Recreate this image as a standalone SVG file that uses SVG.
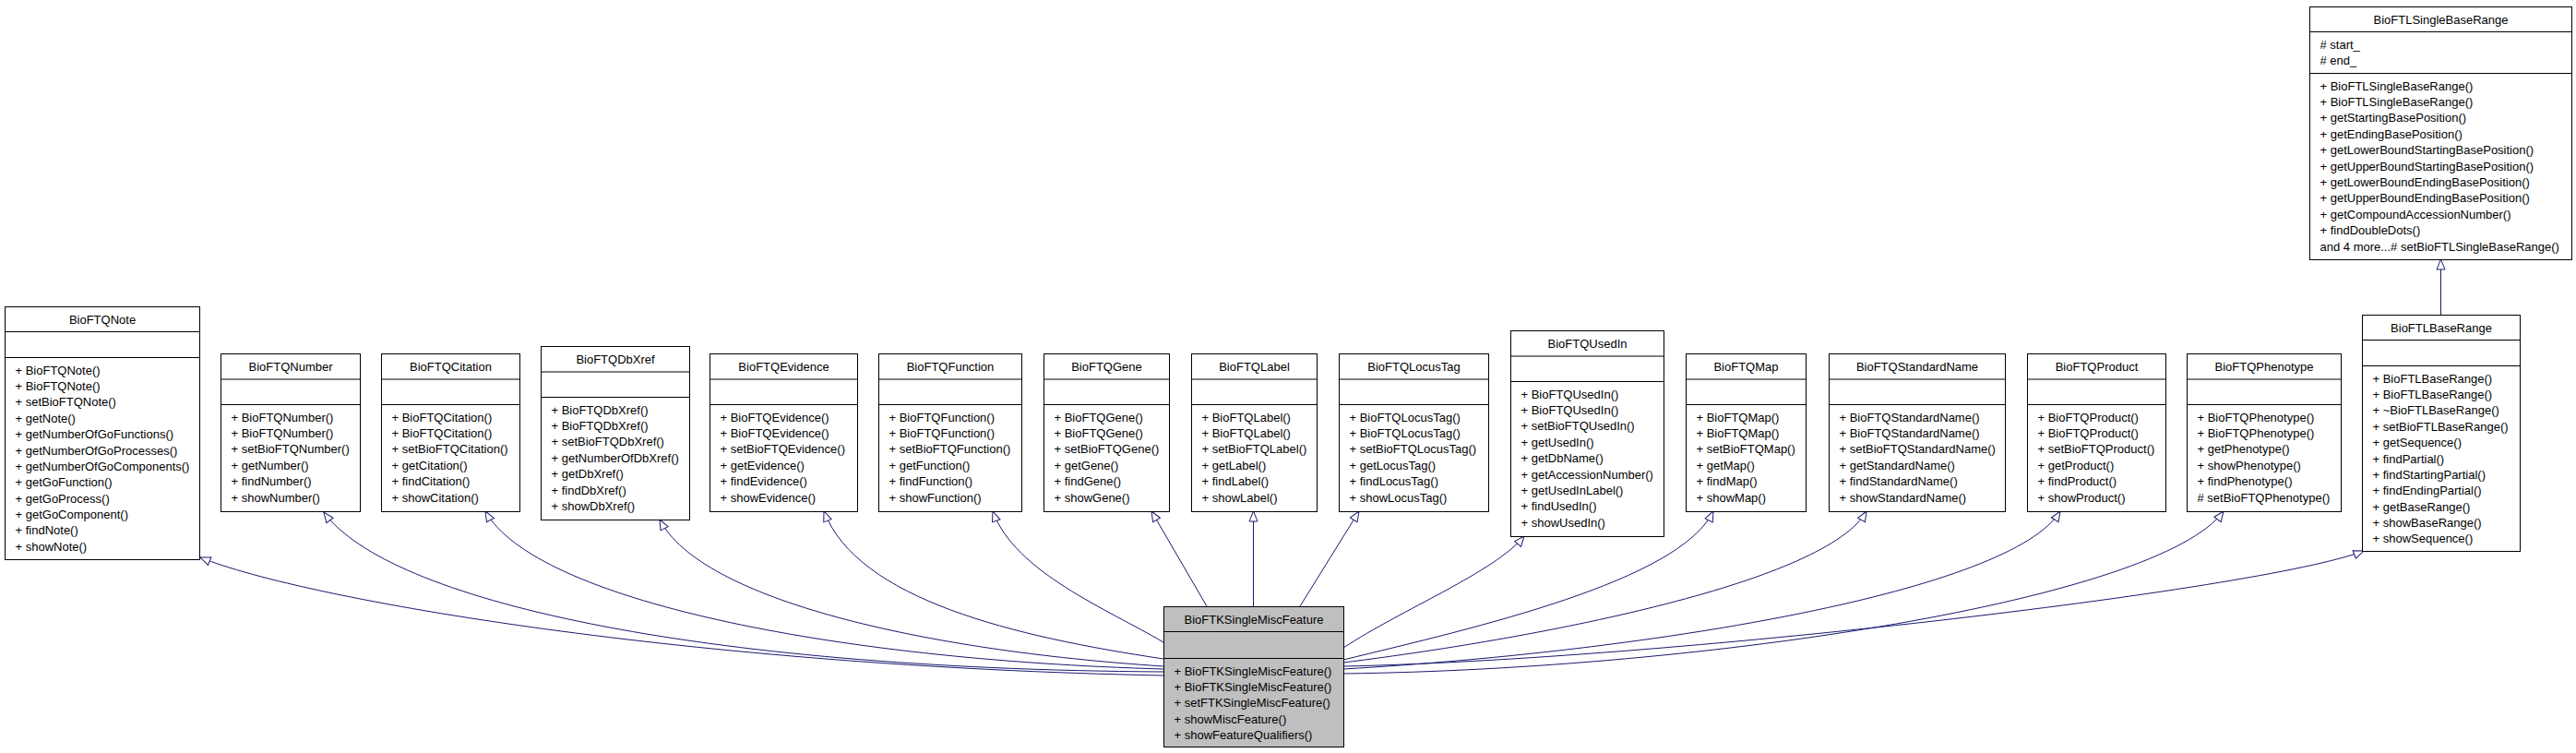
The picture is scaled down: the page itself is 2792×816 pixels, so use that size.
<svg xmlns="http://www.w3.org/2000/svg" width="2792" height="816" viewBox="0 0 2792 816">
<style>
.n rect{fill:#fff;stroke:#000;stroke-width:1}
.n line{stroke:#000;stroke-width:1}
.main rect{fill:#bfbfbf}
text{font-family:"Liberation Sans",Arial,Helvetica,sans-serif;font-size:13px;fill:#000}
.h{text-anchor:middle}
.e path{fill:none;stroke:#191970;stroke-width:1;marker-end:url(#arr)}
</style>
<defs>
<marker id="arr" markerUnits="userSpaceOnUse" viewBox="-12 -6 13 12" markerWidth="13" markerHeight="12" refX="0" refY="0" orient="auto">
<path d="M-11,-4.5 L0,0 L-11,4.5 Z" fill="#fff" stroke="#191970" stroke-width="1"/>
</marker>
</defs>
<rect width="2792" height="816" fill="#fff"/>
<g class="e">
<path d="M1261,732 C750,722 330,650 217,604"/>
<path d="M1261,728 C750,725 420,650 351,555"/>
<path d="M1261,725 C900,715 580,650 526,554"/>
<path d="M1261,722 C1000,705 760,650 715,563"/>
<path d="M1261,714 C1100,690 930,650 893,554"/>
<path d="M1261,696 C1200,660 1100,620 1076,554"/>
<path d="M1308,657 L1248,554"/>
<path d="M1358.5,657 L1358.5,554"/>
<path d="M1409,657 L1473,554"/>
<path d="M1456,702 C1520,660 1620,620 1652,581"/>
<path d="M1456,715 C1600,680 1820,630 1857,554"/>
<path d="M1456,718 C1680,690 1980,630 2023,554"/>
<path d="M1456,725 C1800,705 2180,640 2233,554"/>
<path d="M1456,730 C1850,725 2340,650 2410,554"/>
<path d="M1456,722 C1800,715 2450,640 2562,597"/>
<path d="M2645.5,341 L2645.5,281"/>
</g>
<g id="BioFTQNote" class="n" transform="translate(5.5,332.5)">
<rect width="211" height="274"/><line x1="0" y1="27" x2="211" y2="27"/><line x1="0" y1="55" x2="211" y2="55"/>
<text class="h" x="105.5" y="18">BioFTQNote</text>
<text x="11" y="73"><tspan x="11">+ BioFTQNote()</tspan><tspan x="11" dy="17.4">+ BioFTQNote()</tspan><tspan x="11" dy="17.4">+ setBioFTQNote()</tspan><tspan x="11" dy="17.4">+ getNote()</tspan><tspan x="11" dy="17.4">+ getNumberOfGoFunctions()</tspan><tspan x="11" dy="17.4">+ getNumberOfGoProcesses()</tspan><tspan x="11" dy="17.4">+ getNumberOfGoComponents()</tspan><tspan x="11" dy="17.4">+ getGoFunction()</tspan><tspan x="11" dy="17.4">+ getGoProcess()</tspan><tspan x="11" dy="17.4">+ getGoComponent()</tspan><tspan x="11" dy="17.4">+ findNote()</tspan><tspan x="11" dy="17.4">+ showNote()</tspan></text>
</g>
<g id="BioFTQNumber" class="n" transform="translate(239.5,383.5)">
<rect width="151" height="171"/><line x1="0" y1="27.5" x2="151" y2="27.5"/><line x1="0" y1="55" x2="151" y2="55"/>
<text class="h" x="75.5" y="18">BioFTQNumber</text>
<text x="11" y="73"><tspan x="11">+ BioFTQNumber()</tspan><tspan x="11" dy="17.4">+ BioFTQNumber()</tspan><tspan x="11" dy="17.4">+ setBioFTQNumber()</tspan><tspan x="11" dy="17.4">+ getNumber()</tspan><tspan x="11" dy="17.4">+ findNumber()</tspan><tspan x="11" dy="17.4">+ showNumber()</tspan></text>
</g>
<g id="BioFTQCitation" class="n" transform="translate(413.5,383.5)">
<rect width="150" height="171"/><line x1="0" y1="27.5" x2="150" y2="27.5"/><line x1="0" y1="55" x2="150" y2="55"/>
<text class="h" x="75" y="18">BioFTQCitation</text>
<text x="11" y="73"><tspan x="11">+ BioFTQCitation()</tspan><tspan x="11" dy="17.4">+ BioFTQCitation()</tspan><tspan x="11" dy="17.4">+ setBioFTQCitation()</tspan><tspan x="11" dy="17.4">+ getCitation()</tspan><tspan x="11" dy="17.4">+ findCitation()</tspan><tspan x="11" dy="17.4">+ showCitation()</tspan></text>
</g>
<g id="BioFTQDbXref" class="n" transform="translate(586.5,375.5)">
<rect width="161" height="188"/><line x1="0" y1="27.5" x2="161" y2="27.5"/><line x1="0" y1="55" x2="161" y2="55"/>
<text class="h" x="80.5" y="18">BioFTQDbXref</text>
<text x="11" y="73"><tspan x="11">+ BioFTQDbXref()</tspan><tspan x="11" dy="17.4">+ BioFTQDbXref()</tspan><tspan x="11" dy="17.4">+ setBioFTQDbXref()</tspan><tspan x="11" dy="17.4">+ getNumberOfDbXref()</tspan><tspan x="11" dy="17.4">+ getDbXref()</tspan><tspan x="11" dy="17.4">+ findDbXref()</tspan><tspan x="11" dy="17.4">+ showDbXref()</tspan></text>
</g>
<g id="BioFTQEvidence" class="n" transform="translate(769.5,383.5)">
<rect width="160" height="171"/><line x1="0" y1="27.5" x2="160" y2="27.5"/><line x1="0" y1="55" x2="160" y2="55"/>
<text class="h" x="80" y="18">BioFTQEvidence</text>
<text x="11" y="73"><tspan x="11">+ BioFTQEvidence()</tspan><tspan x="11" dy="17.4">+ BioFTQEvidence()</tspan><tspan x="11" dy="17.4">+ setBioFTQEvidence()</tspan><tspan x="11" dy="17.4">+ getEvidence()</tspan><tspan x="11" dy="17.4">+ findEvidence()</tspan><tspan x="11" dy="17.4">+ showEvidence()</tspan></text>
</g>
<g id="BioFTQFunction" class="n" transform="translate(952.5,383.5)">
<rect width="155" height="171"/><line x1="0" y1="27.5" x2="155" y2="27.5"/><line x1="0" y1="55" x2="155" y2="55"/>
<text class="h" x="77.5" y="18">BioFTQFunction</text>
<text x="11" y="73"><tspan x="11">+ BioFTQFunction()</tspan><tspan x="11" dy="17.4">+ BioFTQFunction()</tspan><tspan x="11" dy="17.4">+ setBioFTQFunction()</tspan><tspan x="11" dy="17.4">+ getFunction()</tspan><tspan x="11" dy="17.4">+ findFunction()</tspan><tspan x="11" dy="17.4">+ showFunction()</tspan></text>
</g>
<g id="BioFTQGene" class="n" transform="translate(1131.5,383.5)">
<rect width="136" height="171"/><line x1="0" y1="27.5" x2="136" y2="27.5"/><line x1="0" y1="55" x2="136" y2="55"/>
<text class="h" x="68" y="18">BioFTQGene</text>
<text x="11" y="73"><tspan x="11">+ BioFTQGene()</tspan><tspan x="11" dy="17.4">+ BioFTQGene()</tspan><tspan x="11" dy="17.4">+ setBioFTQGene()</tspan><tspan x="11" dy="17.4">+ getGene()</tspan><tspan x="11" dy="17.4">+ findGene()</tspan><tspan x="11" dy="17.4">+ showGene()</tspan></text>
</g>
<g id="BioFTQLabel" class="n" transform="translate(1291.5,383.5)">
<rect width="136" height="171"/><line x1="0" y1="27.5" x2="136" y2="27.5"/><line x1="0" y1="55" x2="136" y2="55"/>
<text class="h" x="68" y="18">BioFTQLabel</text>
<text x="11" y="73"><tspan x="11">+ BioFTQLabel()</tspan><tspan x="11" dy="17.4">+ BioFTQLabel()</tspan><tspan x="11" dy="17.4">+ setBioFTQLabel()</tspan><tspan x="11" dy="17.4">+ getLabel()</tspan><tspan x="11" dy="17.4">+ findLabel()</tspan><tspan x="11" dy="17.4">+ showLabel()</tspan></text>
</g>
<g id="BioFTQLocusTag" class="n" transform="translate(1451.5,383.5)">
<rect width="162" height="171"/><line x1="0" y1="27.5" x2="162" y2="27.5"/><line x1="0" y1="55" x2="162" y2="55"/>
<text class="h" x="81" y="18">BioFTQLocusTag</text>
<text x="11" y="73"><tspan x="11">+ BioFTQLocusTag()</tspan><tspan x="11" dy="17.4">+ BioFTQLocusTag()</tspan><tspan x="11" dy="17.4">+ setBioFTQLocusTag()</tspan><tspan x="11" dy="17.4">+ getLocusTag()</tspan><tspan x="11" dy="17.4">+ findLocusTag()</tspan><tspan x="11" dy="17.4">+ showLocusTag()</tspan></text>
</g>
<g id="BioFTQUsedIn" class="n" transform="translate(1637.5,358.5)">
<rect width="166" height="223"/><line x1="0" y1="27.5" x2="166" y2="27.5"/><line x1="0" y1="55" x2="166" y2="55"/>
<text class="h" x="83" y="18">BioFTQUsedIn</text>
<text x="11" y="73"><tspan x="11">+ BioFTQUsedIn()</tspan><tspan x="11" dy="17.4">+ BioFTQUsedIn()</tspan><tspan x="11" dy="17.4">+ setBioFTQUsedIn()</tspan><tspan x="11" dy="17.4">+ getUsedIn()</tspan><tspan x="11" dy="17.4">+ getDbName()</tspan><tspan x="11" dy="17.4">+ getAccessionNumber()</tspan><tspan x="11" dy="17.4">+ getUsedInLabel()</tspan><tspan x="11" dy="17.4">+ findUsedIn()</tspan><tspan x="11" dy="17.4">+ showUsedIn()</tspan></text>
</g>
<g id="BioFTQMap" class="n" transform="translate(1827.5,383.5)">
<rect width="130" height="171"/><line x1="0" y1="27.5" x2="130" y2="27.5"/><line x1="0" y1="55" x2="130" y2="55"/>
<text class="h" x="65" y="18">BioFTQMap</text>
<text x="11" y="73"><tspan x="11">+ BioFTQMap()</tspan><tspan x="11" dy="17.4">+ BioFTQMap()</tspan><tspan x="11" dy="17.4">+ setBioFTQMap()</tspan><tspan x="11" dy="17.4">+ getMap()</tspan><tspan x="11" dy="17.4">+ findMap()</tspan><tspan x="11" dy="17.4">+ showMap()</tspan></text>
</g>
<g id="BioFTQStandardName" class="n" transform="translate(1982.5,383.5)">
<rect width="191" height="171"/><line x1="0" y1="27.5" x2="191" y2="27.5"/><line x1="0" y1="55" x2="191" y2="55"/>
<text class="h" x="95.5" y="18">BioFTQStandardName</text>
<text x="11" y="73"><tspan x="11">+ BioFTQStandardName()</tspan><tspan x="11" dy="17.4">+ BioFTQStandardName()</tspan><tspan x="11" dy="17.4">+ setBioFTQStandardName()</tspan><tspan x="11" dy="17.4">+ getStandardName()</tspan><tspan x="11" dy="17.4">+ findStandardName()</tspan><tspan x="11" dy="17.4">+ showStandardName()</tspan></text>
</g>
<g id="BioFTQProduct" class="n" transform="translate(2197.5,383.5)">
<rect width="150" height="171"/><line x1="0" y1="27.5" x2="150" y2="27.5"/><line x1="0" y1="55" x2="150" y2="55"/>
<text class="h" x="75" y="18">BioFTQProduct</text>
<text x="11" y="73"><tspan x="11">+ BioFTQProduct()</tspan><tspan x="11" dy="17.4">+ BioFTQProduct()</tspan><tspan x="11" dy="17.4">+ setBioFTQProduct()</tspan><tspan x="11" dy="17.4">+ getProduct()</tspan><tspan x="11" dy="17.4">+ findProduct()</tspan><tspan x="11" dy="17.4">+ showProduct()</tspan></text>
</g>
<g id="BioFTQPhenotype" class="n" transform="translate(2370.5,383.5)">
<rect width="167" height="171"/><line x1="0" y1="27.5" x2="167" y2="27.5"/><line x1="0" y1="55" x2="167" y2="55"/>
<text class="h" x="83.5" y="18">BioFTQPhenotype</text>
<text x="11" y="73"><tspan x="11">+ BioFTQPhenotype()</tspan><tspan x="11" dy="17.4">+ BioFTQPhenotype()</tspan><tspan x="11" dy="17.4">+ getPhenotype()</tspan><tspan x="11" dy="17.4">+ showPhenotype()</tspan><tspan x="11" dy="17.4">+ findPhenotype()</tspan><tspan x="11" dy="17.4"># setBioFTQPhenotype()</tspan></text>
</g>
<g id="BioFTLBaseRange" class="n" transform="translate(2560.5,341.5)">
<rect width="171" height="256"/><line x1="0" y1="27" x2="171" y2="27"/><line x1="0" y1="55" x2="171" y2="55"/>
<text class="h" x="85.5" y="18">BioFTLBaseRange</text>
<text x="11" y="73"><tspan x="11">+ BioFTLBaseRange()</tspan><tspan x="11" dy="17.4">+ BioFTLBaseRange()</tspan><tspan x="11" dy="17.4">+ ~BioFTLBaseRange()</tspan><tspan x="11" dy="17.4">+ setBioFTLBaseRange()</tspan><tspan x="11" dy="17.4">+ getSequence()</tspan><tspan x="11" dy="17.4">+ findPartial()</tspan><tspan x="11" dy="17.4">+ findStartingPartial()</tspan><tspan x="11" dy="17.4">+ findEndingPartial()</tspan><tspan x="11" dy="17.4">+ getBaseRange()</tspan><tspan x="11" dy="17.4">+ showBaseRange()</tspan><tspan x="11" dy="17.4">+ showSequence()</tspan></text>
</g>
<g id="BioFTLSingleBaseRange" class="n" transform="translate(2503.5,7.5)">
<rect width="284" height="274"/><line x1="0" y1="27" x2="284" y2="27"/><line x1="0" y1="72" x2="284" y2="72"/>
<text class="h" x="142" y="18">BioFTLSingleBaseRange</text>
<text x="11" y="45.5"><tspan x="11"># start_</tspan><tspan x="11" dy="17.4"># end_</tspan></text>
<text x="11" y="90"><tspan x="11">+ BioFTLSingleBaseRange()</tspan><tspan x="11" dy="17.4">+ BioFTLSingleBaseRange()</tspan><tspan x="11" dy="17.4">+ getStartingBasePosition()</tspan><tspan x="11" dy="17.4">+ getEndingBasePosition()</tspan><tspan x="11" dy="17.4">+ getLowerBoundStartingBasePosition()</tspan><tspan x="11" dy="17.4">+ getUpperBoundStartingBasePosition()</tspan><tspan x="11" dy="17.4">+ getLowerBoundEndingBasePosition()</tspan><tspan x="11" dy="17.4">+ getUpperBoundEndingBasePosition()</tspan><tspan x="11" dy="17.4">+ getCompoundAccessionNumber()</tspan><tspan x="11" dy="17.4">+ findDoubleDots()</tspan><tspan x="11" dy="17.4">and 4 more...# setBioFTLSingleBaseRange()</tspan></text>
</g>
<g id="BioFTKSingleMiscFeature" class="n main" transform="translate(1261.5,657.5)">
<rect width="195" height="152"/><line x1="0" y1="27" x2="195" y2="27"/><line x1="0" y1="56" x2="195" y2="56"/>
<text class="h" x="97.5" y="18">BioFTKSingleMiscFeature</text>
<text x="11" y="74"><tspan x="11">+ BioFTKSingleMiscFeature()</tspan><tspan x="11" dy="17.4">+ BioFTKSingleMiscFeature()</tspan><tspan x="11" dy="17.4">+ setFTKSingleMiscFeature()</tspan><tspan x="11" dy="17.4">+ showMiscFeature()</tspan><tspan x="11" dy="17.4">+ showFeatureQualifiers()</tspan></text>
</g>
</svg>
